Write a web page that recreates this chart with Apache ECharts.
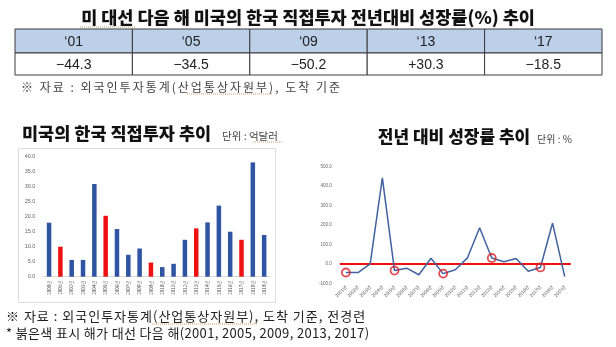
<!DOCTYPE html>
<html>
<head>
<meta charset="utf-8">
<script src="https://cdn.jsdelivr.net/npm/echarts@6/dist/echarts.min.js"></script>
<style>
  html, body { margin: 0; padding: 0; background: #ffffff; }
  #chart { width: 616px; height: 347px; }
</style>
</head>
<body>
<div id="chart"></div>
<script>
// US direct investment into Korea, arrival basis (100 million USD)
const investYears = ['2000년','2001년','2002년','2003년','2004년','2005년','2006년','2007년','2008년','2009년',
                     '2010년','2011년','2012년','2013년','2014년','2015년','2016년','2017년','2018년','2019년'];
const investment = [18.0, 10.0, 5.6, 5.6, 30.9, 20.3, 15.9, 7.3, 9.4, 4.7,
                    3.2, 4.3, 12.3, 16.1, 18.1, 23.7, 15.0, 12.3, 38.1, 13.9];

// Year-over-year growth rate (%)
const growthYears = ['2001년','2002년','2003년','2004년','2005년','2006년','2007년','2008년','2009년','2010년',
                     '2011년','2012년','2013년','2014년','2015년','2016년','2017년','2018년','2019년'];
const growthRate = [-44.3, -45, 0, 442, -34.5, -22, -56, 29, -50.2, -30,
                    31, 186, 30.3, 11, 28, -38, -18.5, 210, -66];

// Years following a US presidential election
const electionNextYears = ['2001년','2005년','2009년','2013년','2017년'];
const tableHeaders = ['\u201801','\u201805','\u201809','\u201813','\u201817'];
const tableValues = [-44.3, -34.5, -50.2, 30.3, -18.5];

const barYTicks = { min: 0, max: 40, interval: 5 };
const lineYTicks = { min: -100, max: 500, interval: 100 };

const KR = '"Noto Sans CJK KR", "Noto Sans", sans-serif';
const BLUE = '#2f54a2';
const RED = '#ee1111';

const barData = investment.map((v, i) => ({
  value: v,
  itemStyle: { color: electionNextYears.includes(investYears[i]) ? RED : BLUE }
}));
const circleData = electionNextYears.map((y, i) => [y, tableValues[i]]);

function fmtSigned(v) {
  return (v > 0 ? '+' : '\u2212') + Math.abs(v).toFixed(1);
}

// Summary table drawn as graphic elements
const tbl = { left: 15, right: 602, top: 29, mid: 53, bottom: 75 };
const colW = (tbl.right - tbl.left) / tableHeaders.length;
const tableEls = [];
tableHeaders.forEach((h, i) => {
  const x = tbl.left + i * colW;
  tableEls.push({
    type: 'rect', shape: { x: x, y: tbl.top, width: colW, height: tbl.mid - tbl.top },
    style: { fill: '#bcd0ea', stroke: '#3a3a3a', lineWidth: 1 }
  });
  tableEls.push({
    type: 'rect', shape: { x: x, y: tbl.mid, width: colW, height: tbl.bottom - tbl.mid },
    style: { fill: '#ffffff', stroke: '#3a3a3a', lineWidth: 1 }
  });
  tableEls.push({
    type: 'text', x: x + colW / 2, y: (tbl.top + tbl.mid) / 2 + 1,
    style: { text: h, font: '14px "Liberation Sans", Arial, sans-serif', fill: '#222',
             align: 'center', verticalAlign: 'middle', textAlign: 'center', textVerticalAlign: 'middle' }
  });
  tableEls.push({
    type: 'text', x: x + colW / 2, y: (tbl.mid + tbl.bottom) / 2 + 1,
    style: { text: fmtSigned(tableValues[i]), font: '14px "Liberation Sans", Arial, sans-serif', fill: '#222',
             align: 'center', verticalAlign: 'middle', textAlign: 'center', textVerticalAlign: 'middle' }
  });
});

function txt(x, y, text, font, fill, align) {
  return {
    type: 'text', x: x, y: y,
    style: { text: text, font: font, fill: fill || '#111',
             align: align || 'left', verticalAlign: 'middle',
             textAlign: align || 'left', textVerticalAlign: 'middle' }
  };
}

// Text with extra tracking: one element per character, advanced by measured width
const measureCtx = document.createElement('canvas').getContext('2d');
function spaced(x, y, text, font, fill, tracking) {
  measureCtx.font = font;
  const els = [];
  let cx = x;
  for (const ch of text) {
    if (ch !== ' ') els.push(txt(cx, y, ch, font, fill));
    cx += measureCtx.measureText(ch).width + tracking;
  }
  return { type: 'group', children: els };
}

function dotted(x1, x2, y) {
  return {
    type: 'line', shape: { x1: x1, y1: y, x2: x2, y2: y },
    style: { stroke: '#c9a26a', lineWidth: 1, lineDash: [1, 1] }
  };
}

const chart = echarts.init(document.getElementById('chart'), null, { renderer: 'canvas' });

chart.setOption({
  backgroundColor: '#ffffff',
  animation: false,
  graphic: [
    txt(308, 17, '미 대선 다음 해 미국의 한국 직접투자 전년대비 성장률(%) 추이', '900 17.5px ' + KR, '#111', 'center'),
    dotted(80, 136, 27),
    ...tableEls,
    spaced(21, 87, '※ 자료 : 외국인투자통계(산업통상자원부), 도착 기준', '12px ' + KR, '#444', 2),
    dotted(187, 273, 94),
    // left panel
    txt(22, 133, '미국의 한국 직접투자 추이', '900 17.5px ' + KR, '#111'),
    txt(222, 136, '단위 : 억달러', '10.5px ' + KR, '#444'),
    dotted(253, 282, 142),
    {
      type: 'rect', shape: { x: 18.5, y: 148.5, width: 257, height: 154 },
      style: { fill: 'none', stroke: '#dcdcdc', lineWidth: 1 }
    },
    // right panel
    txt(454, 137, '전년 대비 성장률 추이', '900 17px ' + KR, '#111', 'center'),
    txt(537, 139, '단위 : %', '10px ' + KR, '#444'),
    // footnotes
    spaced(6, 316, '※ 자료 : 외국인투자통계(산업통상자원부), 도착 기준, 전경련', '13px ' + KR, '#222', 1),
    dotted(152, 257, 324),
    spaced(6, 333, '* 붉은색 표시 해가 대선 다음 해(2001, 2005, 2009, 2013, 2017)', '13px ' + KR, '#222', 0.35)
  ],
  grid: [
    { left: 43.4, top: 156.7, width: 226.4, height: 120 },
    { left: 339.8, top: 166.7, width: 231, height: 116.6 }
  ],
  xAxis: [
    {
      type: 'category', gridIndex: 0, data: investYears, boundaryGap: true,
      axisLine: { show: true, lineStyle: { color: '#d9d9d9', width: 1 } },
      axisTick: { show: false },
      axisLabel: { interval: 0, rotate: 90, fontSize: 4.5, color: '#555', margin: 4, fontFamily: KR }
    },
    {
      type: 'category', gridIndex: 1, data: growthYears, boundaryGap: true,
      axisLine: { show: false, onZero: false },
      axisTick: { show: false },
      axisLabel: { interval: 0, rotate: 45, fontSize: 4.5, color: '#555', margin: 3, fontFamily: KR }
    }
  ],
  yAxis: [
    {
      type: 'value', gridIndex: 0, min: barYTicks.min, max: barYTicks.max, interval: barYTicks.interval,
      axisLine: { show: false }, axisTick: { show: false }, splitLine: { show: false },
      axisLabel: { fontSize: 5.5, color: '#666', margin: 8, formatter: v => v.toFixed(1) }
    },
    {
      type: 'value', gridIndex: 1, min: lineYTicks.min, max: lineYTicks.max, interval: lineYTicks.interval,
      axisLine: { show: false }, axisTick: { show: false }, splitLine: { show: false },
      axisLabel: { fontSize: 4.5, color: '#666', margin: 8, formatter: v => v.toFixed(1) }
    }
  ],
  series: [
    {
      name: '직접투자', type: 'bar', xAxisIndex: 0, yAxisIndex: 0,
      data: barData, barWidth: 4.5
    },
    {
      name: '성장률', type: 'line', xAxisIndex: 1, yAxisIndex: 1,
      data: growthRate, symbol: 'none',
      lineStyle: { color: '#41629f', width: 1.5 },
      z: 3,
      markLine: {
        silent: true, symbol: 'none', label: { show: false },
        lineStyle: { color: RED, width: 2, type: 'solid' },
        data: [{ yAxis: 0 }],
        z: 2
      }
    },
    {
      name: '대선 다음 해', type: 'scatter', xAxisIndex: 1, yAxisIndex: 1,
      data: circleData, symbol: 'circle', symbolSize: 8,
      itemStyle: { color: 'rgba(0,0,0,0)', borderColor: '#d8202a', borderWidth: 1.8 },
      z: 4
    }
  ]
});
</script>
</body>
</html>
